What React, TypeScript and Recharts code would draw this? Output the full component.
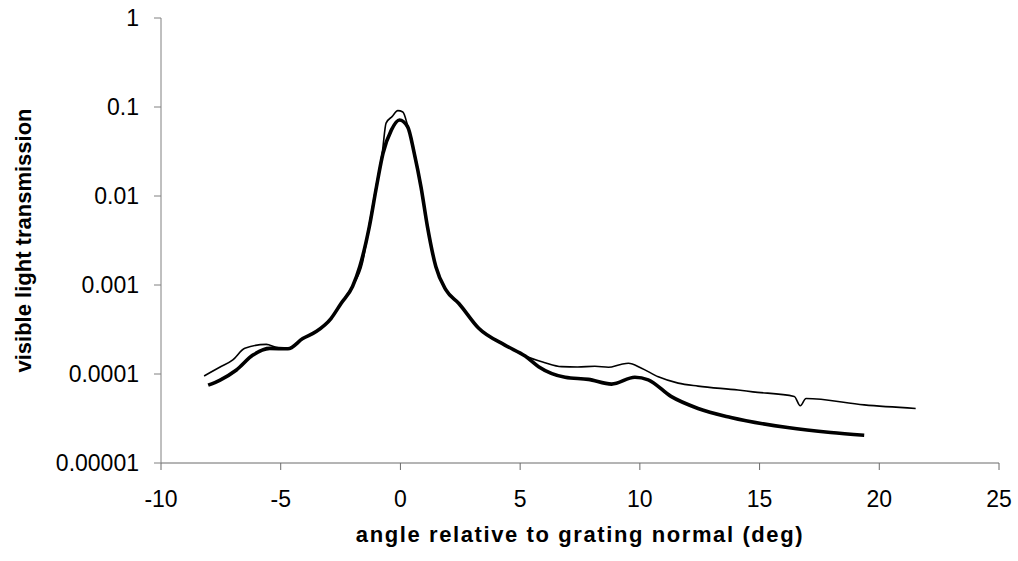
import React from 'react';
import { LineChart, Line, XAxis, YAxis, Label } from 'recharts';

// thin trace
const thinX = [
  -8.2, -7.55, -7.0, -6.5, -5.6, -5.2, -4.7, -4.08, -3.52, -2.9, -2.48, -2.0, -1.58, -1.3, -1.0, -0.75,
  -0.6, -0.35, -0.11, 0.1, 0.3, 0.58, 0.86, 1.13, 1.48, 1.9, 2.44, 3.27, 4.38, 5.21, 6.0, 6.73, 7.4,
  8.12, 8.69, 9.2, 9.52, 10.07, 10.77, 11.6, 12.43, 14.1, 14.72, 16.45, 16.7, 16.94, 19.37, 21.52,
];
const thinY = [
  9.5e-5, 1.19e-4, 1.44e-4, 1.95e-4, 2.15e-4, 2.0e-4, 1.92e-4, 2.5e-4, 3.0e-4, 4.2e-4, 6.2e-4, 9.8e-4,
  1.8e-3, 4.8e-3, 0.0135, 0.032, 0.066, 0.078, 0.091, 0.088, 0.062, 0.031, 0.0128, 0.0046, 1.6e-3,
  8.8e-4, 6.2e-4, 3.26e-4, 2.1e-4, 1.59e-4, 1.35e-4, 1.21e-4, 1.2e-4, 1.22e-4, 1.19e-4, 1.28e-4,
  1.32e-4, 1.16e-4, 9.3e-5, 7.9e-5, 7.3e-5, 6.6e-5, 6.3e-5, 5.6e-5, 4.4e-5, 5.3e-5, 4.5e-5, 4.1e-5,
];

// thick trace
const thickX = [
  -8.03, -7.55, -6.85, -6.16, -5.46, -4.7, -4.08, -3.52, -2.9, -2.48, -2.0, -1.7, -1.3, -1.0, -0.73,
  -0.38, -0.04, 0.3, 0.58, 0.86, 1.13, 1.48, 1.9, 2.44, 3.27, 4.38, 5.21, 5.77, 6.88, 7.85, 8.82, 9.79,
  10.35, 11.3, 12.43, 13.8, 16.17, 17.97, 19.37,
];
const thickY = [
  7.5e-5, 8.5e-5, 1.11e-4, 1.63e-4, 1.94e-4, 1.92e-4, 2.5e-4, 3.0e-4, 4.2e-4, 6.2e-4, 9.6e-4, 1.6e-3,
  4.5e-3, 0.0127, 0.03, 0.055, 0.0714, 0.06, 0.03, 0.0126, 0.0045, 1.6e-3, 8.8e-4, 6.2e-4, 3.26e-4,
  2.1e-4, 1.59e-4, 1.21e-4, 9.2e-5, 8.7e-5, 7.7e-5, 9.2e-5, 8.6e-5, 5.6e-5, 4.1e-5, 3.25e-5, 2.5e-5,
  2.2e-5, 2.05e-5,
];

const xTicks = [-10, -5, 0, 5, 10, 15, 20, 25];
const yTicks = [0.00001, 0.0001, 0.001, 0.01, 0.1, 1];

const thinData = thinX.map((x, i) => ({ x, y: thinY[i] }));
const thickData = thickX.map((x, i) => ({ x, y: thickY[i] }));

const FONT = '"Liberation Sans", Arial, sans-serif';
const tickStyle = { fontSize: 23, fill: '#000', fontFamily: FONT };

export default function App() {
  return (
    <div style={{ position: 'absolute', left: 0, top: 0, background: '#fff' }}>
      <LineChart width={1018} height={561} margin={{ top: 18, right: 19, bottom: 0, left: 61 }}>
        <XAxis
          dataKey="x"
          type="number"
          domain={[-10, 25]}
          ticks={xTicks}
          allowDataOverflow
          height={98}
          stroke="#6b6b6b"
          tickSize={7}
          tickMargin={21}
          tick={tickStyle}
        >
          <Label
            content={({ viewBox }: any) => (
              <text
                x={viewBox.x + viewBox.width / 2}
                y={viewBox.y + 79}
                textAnchor="middle"
                fontFamily={FONT}
                fontWeight="bold"
                fontSize={22}
                letterSpacing={1.6}
              >
                angle relative to grating normal (deg)
              </text>
            )}
          />
        </XAxis>
        <YAxis
          dataKey="y"
          scale="log"
          domain={[0.00001, 1]}
          ticks={yTicks}
          allowDataOverflow
          width={100}
          stroke="#808080"
          tickSize={7}
          tickMargin={15}
          tick={tickStyle}
          tickFormatter={(v: number) => String(v)}
        >
          <Label
            content={({ viewBox }: any) => {
              const cy = viewBox.y + viewBox.height / 2;
              return (
                <text
                  x={23}
                  y={cy}
                  transform={`rotate(-90 23 ${cy})`}
                  textAnchor="middle"
                  dominantBaseline="central"
                  fontFamily={FONT}
                  fontWeight="bold"
                  fontSize={22}
                >
                  visible light transmission
                </text>
              );
            }}
          />
        </YAxis>
        <Line
          data={thinData}
          dataKey="y"
          type="monotone"
          stroke="#000"
          strokeWidth={1.6}
          dot={false}
          isAnimationActive={false}
        />
        <Line
          data={thickData}
          dataKey="y"
          type="monotone"
          stroke="#000"
          strokeWidth={3.6}
          dot={false}
          isAnimationActive={false}
        />
      </LineChart>
    </div>
  );
}
